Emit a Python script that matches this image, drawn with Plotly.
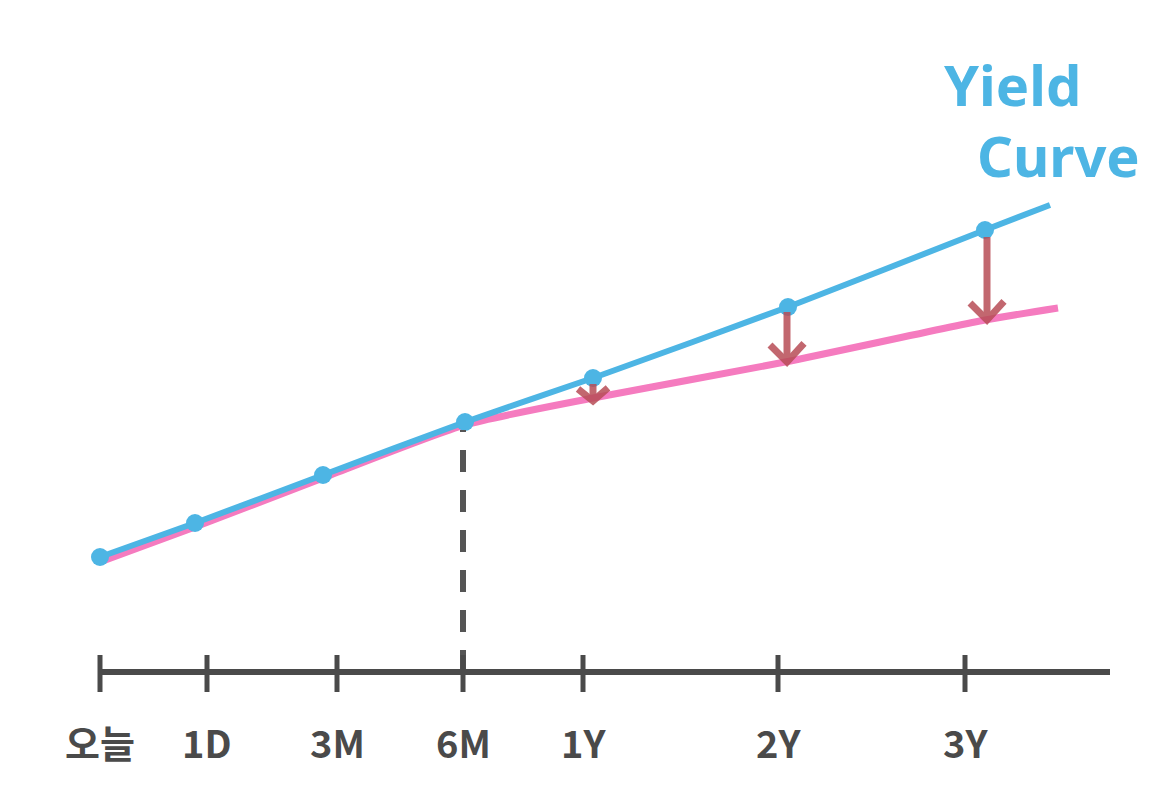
import plotly.graph_objects as go

# Tenor axis (positions along the horizontal axis, arbitrary units)
tick_labels = ["오늘", "1D", "3M", "6M", "1Y", "2Y", "3Y"]
tick_pos = [0.0, 1.07, 2.37, 3.63, 4.83, 6.78, 8.65]
axis_end = 10.1

# Current yield curve (blue) — point positions and values
curve_x = [0.0, 0.95, 2.23, 3.65, 4.93, 6.88, 8.85]
curve_y = [1.15, 1.49, 1.97, 2.50, 2.94, 3.65, 4.42]
curve_tail_x = 9.5
curve_tail_y = 4.67

# Expected (lower) curve (pink)
pink_x = [0.0, 0.95, 2.23, 3.65, 4.93, 6.85, 8.85, 9.58]
pink_y = [1.10, 1.45, 1.94, 2.47, 2.74, 3.10, 3.52, 3.64]

# Arrows at 1Y, 2Y, 3Y
arrow_x = [4.93, 6.87, 8.87]
arrow_from = [2.88, 3.60, 4.35]
arrow_to = [2.71, 3.10, 3.52]

BLUE = "#4db5e4"
PINK = "#f57bbf"
RED = "#b84d57"
GRAY = "#4a4a4a"

fig = go.Figure()

# pink line
fig.add_trace(go.Scatter(x=pink_x, y=pink_y, mode="lines",
                         line=dict(color=PINK, width=7, shape="spline", smoothing=0.6),
                         hoverinfo="skip", showlegend=False))
# blue line
fig.add_trace(go.Scatter(x=curve_x + [curve_tail_x], y=curve_y + [curve_tail_y], mode="lines",
                         line=dict(color=BLUE, width=6, shape="spline", smoothing=0.6),
                         hoverinfo="skip", showlegend=False))
# blue points
fig.add_trace(go.Scatter(x=curve_x, y=curve_y, mode="markers",
                         marker=dict(color=BLUE, size=18),
                         hoverinfo="skip", showlegend=False))

# arrows (shaft + open V head)
for i, (ax, y0, y1) in enumerate(zip(arrow_x, arrow_from, arrow_to)):
    wing_dx = 0.17 if i else 0.15
    wing_dy = 0.17 if i else 0.12
    xs = [ax, ax, None, ax - wing_dx, ax, ax + wing_dx]
    ys = [y0, y1, None, y1 + wing_dy, y1, y1 + wing_dy * 1.1]
    fig.add_trace(go.Scatter(x=xs, y=ys, mode="lines",
                             line=dict(color=RED, width=7),
                             opacity=0.85, hoverinfo="skip", showlegend=False))

# dashed vertical at 6M
fig.add_trace(go.Scatter(x=[tick_pos[3], tick_pos[3]], y=[0, pink_y[3] - 0.05], mode="lines",
                         line=dict(color="#555555", width=6, dash="22px,18px"),
                         hoverinfo="skip", showlegend=False))

# horizontal axis line
fig.add_trace(go.Scatter(x=[0, axis_end], y=[0, 0], mode="lines",
                         line=dict(color=GRAY, width=6),
                         hoverinfo="skip", showlegend=False))
# tick marks
for tp in tick_pos:
    fig.add_trace(go.Scatter(x=[tp, tp], y=[-0.2, 0.17], mode="lines",
                             line=dict(color=GRAY, width=5),
                             hoverinfo="skip", showlegend=False))

# tick labels
for lbl, tp in zip(tick_labels, tick_pos):
    fig.add_annotation(x=tp, y=-0.69, text="<b>" + lbl + "</b>", showarrow=False,
                       font=dict(family="Noto Sans CJK KR, Noto Sans, sans-serif",
                                 size=38, color=GRAY))

# Yield Curve label
fig.add_annotation(x=9.12, y=5.88, text="<b>Yield</b>", showarrow=False,
                   font=dict(family="Noto Sans, sans-serif", size=56, color=BLUE))
fig.add_annotation(x=9.58, y=5.17, text="<b>Curve</b>", showarrow=False,
                   font=dict(family="Noto Sans, sans-serif", size=56, color=BLUE))

fig.update_layout(
    width=1162, height=808,
    margin=dict(l=0, r=0, t=0, b=0),
    paper_bgcolor="white", plot_bgcolor="white",
    xaxis=dict(range=[-0.92, 10.70], visible=False, fixedrange=True),
    yaxis=dict(range=[-1.44, 6.64], visible=False, fixedrange=True),
)

fig.write_html("out.html")
